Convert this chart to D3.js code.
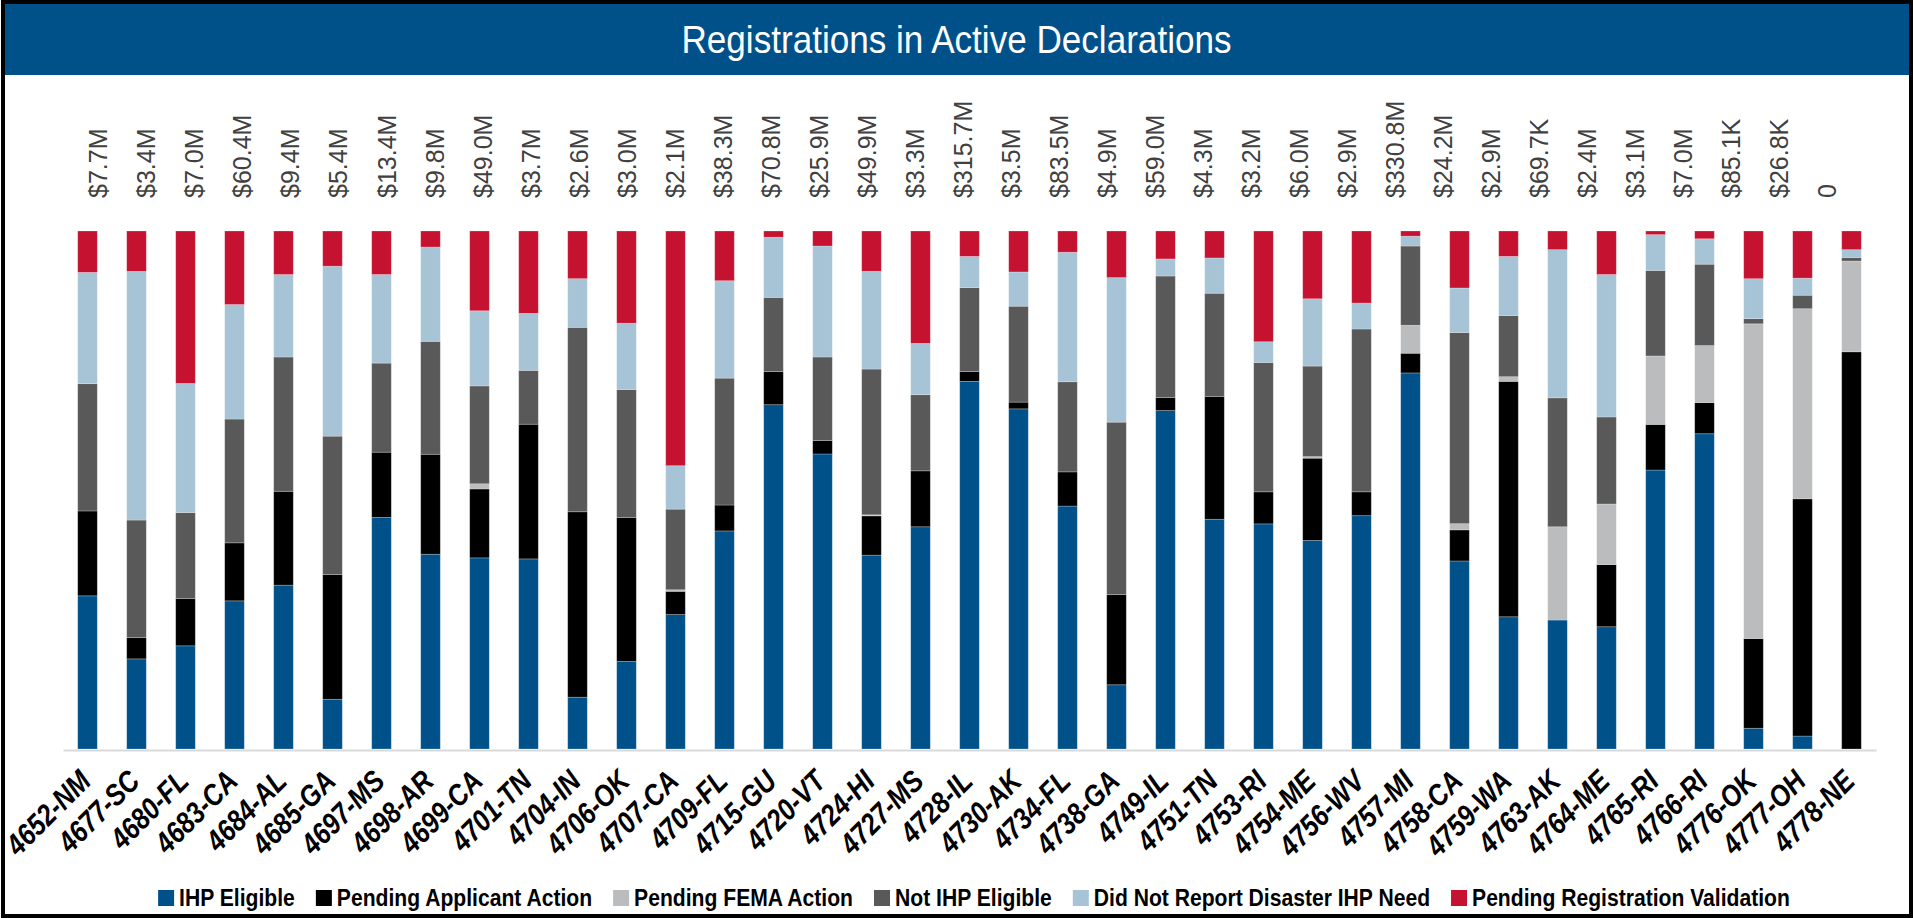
<!DOCTYPE html>
<html>
<head>
<meta charset="utf-8">
<script src="https://cdn.jsdelivr.net/npm/d3@7"></script>
<style>
  body { margin: 0; background: #ffffff; }
  svg { display: block; }
</style>
</head>
<body>
<div id="vis1"></div>
<script>
// data (percent of registrations per declaration)
const CATEGORIES = ["4652-NM", "4677-SC", "4680-FL", "4683-CA", "4684-AL", "4685-GA", "4697-MS",
  "4698-AR", "4699-CA", "4701-TN", "4704-IN", "4706-OK", "4707-CA", "4709-FL", "4715-GU",
  "4720-VT", "4724-HI", "4727-MS", "4728-IL", "4730-AK", "4734-FL", "4738-GA", "4749-IL",
  "4751-TN", "4753-RI", "4754-ME", "4756-WV", "4757-MI", "4758-CA", "4759-WA", "4763-AK",
  "4764-ME", "4765-RI", "4766-RI", "4776-OK", "4777-OH", "4778-NE"];

const AMOUNT_LABELS = ["$7.7M", "$3.4M", "$7.0M", "$60.4M", "$9.4M", "$5.4M", "$13.4M", "$9.8M",
  "$49.0M", "$3.7M", "$2.6M", "$3.0M", "$2.1M", "$38.3M", "$70.8M", "$25.9M", "$49.9M", "$3.3M",
  "$315.7M", "$3.5M", "$83.5M", "$4.9M", "$59.0M", "$4.3M", "$3.2M", "$6.0M", "$2.9M", "$330.8M",
  "$24.2M", "$2.9M", "$69.7K", "$2.4M", "$3.1M", "$7.0M", "$85.1K", "$26.8K", "0"];

const IHP_ELIGIBLE = [29.6, 17.4, 19.9, 28.6, 31.6, 9.6, 44.7, 37.6, 36.9, 36.7, 10.0, 16.9, 26.0,
  42.1, 66.4, 56.9, 37.5, 42.9, 70.9, 65.6, 46.9, 12.4, 65.4, 44.3, 43.5, 40.3, 45.0, 72.6, 36.3,
  25.5, 24.9, 23.6, 53.8, 60.8, 4.0, 2.5, 0];
const PENDING_APPLICANT = [16.4, 4.1, 9.1, 11.2, 18.1, 24.1, 12.6, 19.3, 13.3, 26.0, 35.8, 27.8, 4.5,
  5.0, 6.4, 2.6, 7.6, 10.8, 1.9, 1.3, 6.6, 17.4, 2.5, 23.7, 6.2, 15.9, 4.6, 3.8, 6.0, 45.4, 0,
  12.0, 8.8, 6.0, 17.3, 45.8, 76.6];
const PENDING_FEMA = [0, 0, 0, 0, 0, 0, 0, 0, 1.0, 0, 0, 0, 0.3, 0, 0, 0, 0.2, 0, 0, 0, 0, 0, 0, 0,
  0, 0.3, 0, 5.4, 1.2, 0.9, 18.0, 11.7, 13.2, 11.0, 60.7, 36.7, 17.5];
const NOT_ELIGIBLE = [24.6, 22.7, 16.6, 23.9, 25.9, 26.7, 17.2, 21.8, 18.9, 10.4, 35.6, 24.7, 15.6,
  24.5, 14.3, 16.1, 28.2, 14.7, 16.2, 18.5, 17.4, 33.3, 23.5, 19.9, 25.0, 17.5, 31.4, 15.3, 36.9,
  11.8, 24.9, 16.8, 16.5, 15.7, 1.0, 2.6, 0.7];
const NO_NEED = [21.5, 48.0, 24.9, 22.1, 15.9, 32.8, 17.1, 18.2, 14.5, 11.0, 9.4, 12.8, 8.4, 18.8,
  11.6, 21.4, 18.9, 9.9, 6.0, 6.6, 25.0, 27.9, 3.3, 6.8, 4.0, 13.0, 5.0, 1.9, 8.6, 11.4, 28.6,
  27.5, 6.9, 4.9, 7.7, 3.3, 1.5];
const PENDING_VALIDATION = [8.0, 7.8, 29.4, 14.2, 8.4, 6.8, 8.4, 3.1, 15.4, 15.9, 9.2, 17.8, 45.4,
  9.6, 1.2, 2.9, 7.8, 21.7, 4.9, 7.9, 4.1, 9.0, 5.4, 5.2, 21.4, 13.1, 13.9, 1.0, 11.0, 4.9, 3.6,
  8.4, 0.7, 1.5, 9.2, 9.1, 3.6];

const SERIES_NAMES = ["IHP Eligible", "Pending Applicant Action", "Pending FEMA Action",
  "Not IHP Eligible", "Did Not Report Disaster IHP Need", "Pending Registration Validation"];
const SERIES_VALUES = [IHP_ELIGIBLE, PENDING_APPLICANT, PENDING_FEMA, NOT_ELIGIBLE, NO_NEED,
  PENDING_VALIDATION];
const COLORS = ["#00518a", "#000000", "#bbbcbe", "#595959", "#a7c3d6", "#c41230"];

// frame
const FRAME_WIDTH = 1913;
const FRAME_HEIGHT = 918;
const MARGINS = {left: 63, right: 37, top: 231, bottom: 169};
const VIS_WIDTH = FRAME_WIDTH - MARGINS.left - MARGINS.right;
const VIS_HEIGHT = FRAME_HEIGHT - MARGINS.top - MARGINS.bottom;

// no condensed face is installed, so condensed text is squeezed horizontally
const SANS = "'Liberation Sans', Arial, sans-serif";
const SQUEEZE = 0.88;

const FRAME1 = d3.select("#vis1")
                  .append("svg")
                    .attr("width", FRAME_WIDTH)
                    .attr("height", FRAME_HEIGHT);

// title band
FRAME1.append("rect")
  .attr("x", 4).attr("y", 3)
  .attr("width", FRAME_WIDTH - 8).attr("height", 72)
  .attr("fill", "#00518a");

FRAME1.append("text")
  .attr("transform", "translate(" + (FRAME_WIDTH / 2) + ",53) scale(0.9,1)")
  .attr("text-anchor", "middle")
  .attr("font-family", SANS)
  .attr("font-size", "39px")
  .attr("fill", "#ffffff")
  .text("Registrations in Active Declarations");

// one row per declaration, built from the series arrays
const rows = CATEGORIES.map((c, i) => {
  const row = {category: c};
  SERIES_NAMES.forEach((s, j) => { row[s] = SERIES_VALUES[j][i]; });
  return row;
});

const stacked = d3.stack()
  .keys(SERIES_NAMES)
  .offset(d3.stackOffsetExpand)(rows);

// scales
const X_SCALE = d3.scaleBand()
  .domain(CATEGORIES)
  .range([MARGINS.left, MARGINS.left + VIS_WIDTH])
  .paddingInner(0.6)
  .paddingOuter(0.3);

const Y_SCALE = d3.scaleLinear()
  .domain([0, 1])
  .range([MARGINS.top + VIS_HEIGHT, MARGINS.top]);

// the amount row above the bars sits on its own, slightly tighter grid
const LABEL_SCALE = d3.scalePoint()
  .domain(CATEGORIES)
  .range([98.6, 1827.5]);

// bars
FRAME1.append("g")
  .selectAll("g")
  .data(stacked)
  .enter()
  .append("g")
    .attr("fill", (d, i) => COLORS[i])
  .selectAll("rect")
  .data((d) => d)
  .enter()
  .append("rect")
    .attr("x", (d) => X_SCALE(d.data.category))
    .attr("y", (d) => Y_SCALE(d[1]))
    .attr("width", X_SCALE.bandwidth())
    .attr("height", (d) => Math.max(0, Y_SCALE(d[0]) - Y_SCALE(d[1])))
    .attr("stroke", "#ffffff")
    .attr("stroke-opacity", 0.3)
    .attr("stroke-width", 0.8);

// x axis line
const xAxis = FRAME1.append("g")
  .attr("transform", "translate(0," + (MARGINS.top + VIS_HEIGHT + 1) + ")")
  .call(d3.axisBottom(X_SCALE).tickSize(0).tickFormat(""));
xAxis.select(".domain").attr("stroke", "#d9d9d9").attr("stroke-width", 2);

// category labels
FRAME1.append("g")
  .selectAll("text")
  .data(CATEGORIES)
  .enter()
  .append("text")
    .attr("transform", (d) => "translate(" + (X_SCALE(d) + X_SCALE.bandwidth() / 2 + 5) +
          ",783) rotate(-45) scale(0.85,1)")
    .attr("text-anchor", "end")
    .attr("font-family", SANS)
    .attr("font-size", "30px")
    .attr("font-weight", "bold")
    .attr("font-style", "italic")
    .attr("fill", "#000000")
    .text((d) => d);

// amount labels
FRAME1.append("g")
  .selectAll("text")
  .data(CATEGORIES)
  .enter()
  .append("text")
    .attr("transform", (d) => "translate(" + LABEL_SCALE(d) + ",198) rotate(-90)")
    .attr("dy", "0.35em")
    .attr("text-anchor", "start")
    .attr("font-family", SANS)
    .attr("font-size", "25px")
    .attr("fill", "#404040")
    .text((d, i) => AMOUNT_LABELS[i]);

// legend
const legend = FRAME1.append("g");
let cursor = 0;
SERIES_NAMES.forEach((name, i) => {
  const item = legend.append("g").attr("transform", "translate(" + cursor + ",0)");
  item.append("rect")
    .attr("x", 0).attr("y", 890)
    .attr("width", 16).attr("height", 16)
    .attr("fill", COLORS[i]);
  const label = item.append("text")
    .attr("transform", "translate(21,906) scale(" + SQUEEZE + ",1)")
    .attr("font-family", SANS)
    .attr("font-size", "24px")
    .attr("font-weight", "bold")
    .attr("fill", "#000000")
    .text(name);
  cursor += 21 + label.node().getComputedTextLength() * SQUEEZE + 21;
});
legend.attr("transform", "translate(" + (974 - (cursor - 21) / 2) + ",0)");

// outer frame
FRAME1.append("rect")
  .attr("x", 3).attr("y", 2)
  .attr("width", FRAME_WIDTH - 5).attr("height", FRAME_HEIGHT - 4)
  .attr("fill", "none")
  .attr("stroke", "#000000")
  .attr("stroke-width", 4);
</script>
</body>
</html>
